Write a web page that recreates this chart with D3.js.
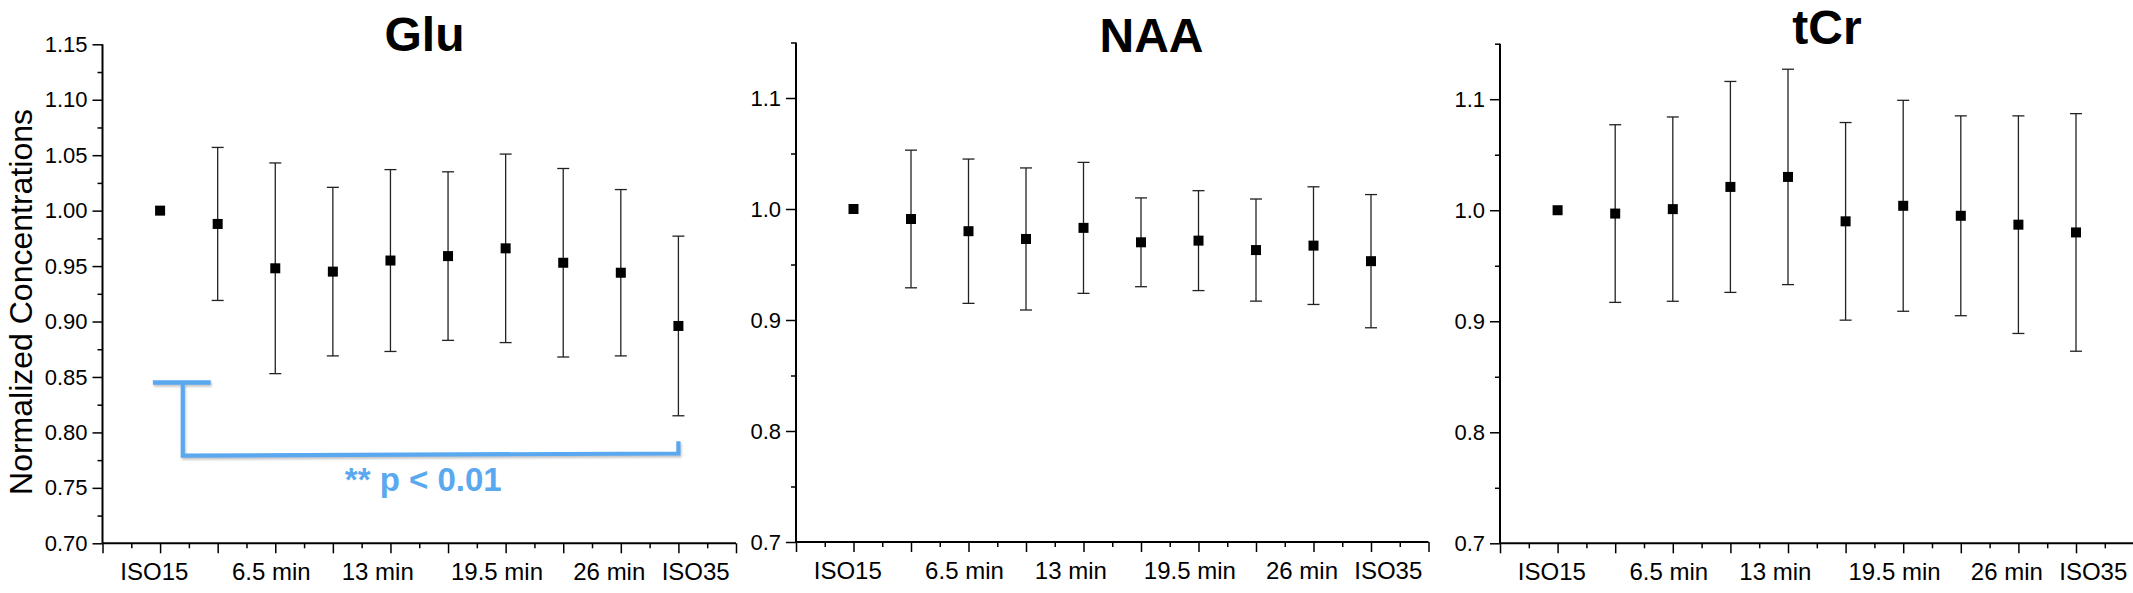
<!DOCTYPE html>
<html><head><meta charset="utf-8">
<script src="https://cdn.jsdelivr.net/npm/d3@7"></script>
<style>
html,body{margin:0;padding:0;background:#fff;}
svg{display:block;background:#fff;}
text{font-family:"Liberation Sans",Arial,Helvetica,sans-serif;fill:#000;}
</style></head><body>
<svg id="chart" width="2133" height="593"></svg>
<script>
// ---- data ----
const positions = [1, 2, 3, 4, 5, 6, 7, 8, 9, 10];
const tickLabels = ["ISO15", "6.5 min", "13 min", "19.5 min", "26 min", "ISO35"];
const tickLabelPos = [0.9, 2.93, 4.78, 6.85, 8.8, 10.3];

const gluMean = [1.000, 0.988, 0.948, 0.945, 0.955, 0.959, 0.966, 0.953, 0.944, 0.896];
const gluSD   = [0, 0.069, 0.095, 0.076, 0.082, 0.076, 0.085, 0.085, 0.075, 0.081];
const naaMean = [1.000, 0.991, 0.980, 0.973, 0.983, 0.970, 0.9715, 0.963, 0.967, 0.953];
const naaSD   = [0, 0.062, 0.065, 0.064, 0.059, 0.040, 0.045, 0.046, 0.053, 0.060];
const tcrMean = [1.000, 0.997, 1.001, 1.021, 1.030, 0.990, 1.004, 0.995, 0.987, 0.980];
const tcrSD   = [0, 0.080, 0.083, 0.095, 0.097, 0.089, 0.095, 0.090, 0.098, 0.107];

const gluYTicks = [0.70, 0.75, 0.80, 0.85, 0.90, 0.95, 1.00, 1.05, 1.10, 1.15];
const gluYMinor = [0.725, 0.775, 0.825, 0.875, 0.925, 0.975, 1.025, 1.075, 1.125];
const otherYTicks = [0.7, 0.8, 0.9, 1.0, 1.1];
const otherYMinor = [0.75, 0.85, 0.95, 1.05, 1.15];
const xMajor = [0, 1, 2, 3, 4, 5, 6, 7, 8, 9, 10, 11];
const xMinor = [0.5, 1.5, 2.5, 3.5, 4.5, 5.5, 6.5, 7.5, 8.5, 9.5, 10.5];

// significance annotation (Glu: ISO15 vs ISO35)
const bracketCap = [[0.875, 0.845], [1.88, 0.845]];
const bracketPath = [[1.394, 0.845], [1.394, 0.779], [10.0, 0.781], [10.0, 0.792]];
const sigText = "** p < 0.01";
const sigTextPos = [5.57, 0.747];

// ---- layout ----
const svg = d3.select("#chart");
const defs = svg.append("defs");
const f = defs.append("filter").attr("id", "shadow").attr("x", "-5%").attr("y", "-20%").attr("width", "110%").attr("height", "150%");
f.append("feDropShadow").attr("dx", 1).attr("dy", 2).attr("stdDeviation", 1).attr("flood-color", "#888").attr("flood-opacity", 0.5);

const panels = [
  {title: "Glu", mean: gluMean, sd: gluSD, x0: 102.5, x1: 736, yTop: 44.3, yBot: 543.3,
   ticks: gluYTicks, minor: gluYMinor, fmt: d3.format(".2f"), titleX: 424.5, titleY: 51, sig: true},
  {title: "NAA", mean: naaMean, sd: naaSD, x0: 796, x1: 1428.5, yTop: 42.5, yBot: 542,
   ticks: otherYTicks, minor: otherYMinor, fmt: d3.format(".1f"), titleX: 1151.5, titleY: 51.5, sig: false},
  {title: "tCr", mean: tcrMean, sd: tcrSD, x0: 1500, x1: 2133.6, yTop: 43.7, yBot: 543.3,
   ticks: otherYTicks, minor: otherYMinor, fmt: d3.format(".1f"), titleX: 1827, titleY: 43.5, sig: false}
];

panels.forEach(p => {
  const x = d3.scaleLinear().domain([0, 11]).range([p.x0, p.x1]);
  const y = d3.scaleLinear().domain([0.70, 1.15]).range([p.yBot, p.yTop]);
  const g = svg.append("g");

  // y axis
  const yAx = g.append("g").attr("transform", `translate(${p.x0},0)`)
    .call(d3.axisLeft(y).tickValues(p.ticks).tickFormat(p.fmt).tickSize(10).tickSizeOuter(0).tickPadding(5));
  yAx.select(".domain").remove();
  yAx.selectAll("line").attr("stroke", "#000").attr("stroke-width", 1.5);
  yAx.selectAll("text").style("font-size", "22px").attr("font-family", null);
  const yMin = g.append("g").attr("transform", `translate(${p.x0},0)`)
    .call(d3.axisLeft(y).tickValues(p.minor).tickFormat("").tickSize(5).tickSizeOuter(0));
  yMin.select(".domain").remove();
  yMin.selectAll("line").attr("stroke", "#000").attr("stroke-width", 1.5);

  // x axis
  const xAx = g.append("g").attr("transform", `translate(0,${p.yBot})`)
    .call(d3.axisBottom(x).tickValues(xMajor).tickFormat("").tickSize(10).tickSizeOuter(0));
  xAx.select(".domain").remove();
  xAx.selectAll("line").attr("stroke", "#000").attr("stroke-width", 1.5);
  const xMin = g.append("g").attr("transform", `translate(0,${p.yBot})`)
    .call(d3.axisBottom(x).tickValues(xMinor).tickFormat("").tickSize(5).tickSizeOuter(0));
  xMin.select(".domain").remove();
  xMin.selectAll("line").attr("stroke", "#000").attr("stroke-width", 1.5);

  // axis lines
  g.append("line").attr("x1", p.x0).attr("x2", p.x0).attr("y1", p.yTop).attr("y2", p.yBot)
    .attr("stroke", "#000").attr("stroke-width", 2);
  g.append("line").attr("x1", p.x0).attr("x2", p.x1).attr("y1", p.yBot).attr("y2", p.yBot)
    .attr("stroke", "#000").attr("stroke-width", 2);

  // x tick labels
  g.selectAll("text.xl").data(tickLabels).enter().append("text").attr("class", "xl")
    .attr("x", (d, i) => x(tickLabelPos[i])).attr("y", p.yBot + 37)
    .attr("text-anchor", "middle").style("font-size", "24px").text(d => d);

  // title
  g.append("text").attr("x", p.titleX).attr("y", p.titleY).attr("text-anchor", "middle")
    .style("font-size", "48px").style("font-weight", "bold").text(p.title);

  // error bars
  const data = positions.map((pos, i) => ({pos, m: p.mean[i], s: p.sd[i]}));
  const eb = g.selectAll("g.eb").data(data.filter(d => d.s > 0)).enter().append("g").attr("class", "eb")
    .attr("stroke", "#222").attr("stroke-width", 1.3);
  eb.append("line").attr("x1", d => x(d.pos)).attr("x2", d => x(d.pos))
    .attr("y1", d => y(d.m + d.s)).attr("y2", d => y(d.m - d.s));
  eb.append("line").attr("x1", d => x(d.pos) - 6).attr("x2", d => x(d.pos) + 6)
    .attr("y1", d => y(d.m + d.s)).attr("y2", d => y(d.m + d.s));
  eb.append("line").attr("x1", d => x(d.pos) - 6).attr("x2", d => x(d.pos) + 6)
    .attr("y1", d => y(d.m - d.s)).attr("y2", d => y(d.m - d.s));

  // markers
  g.selectAll("rect.pt").data(data).enter().append("rect").attr("class", "pt")
    .attr("x", d => x(d.pos) - 5).attr("y", d => y(d.m) - 5).attr("width", 10).attr("height", 10)
    .attr("fill", "#000");

  if (p.sig) {
    const blue = "#5aa9f0";
    const line = d3.line().x(d => x(d[0])).y(d => y(d[1]));
    const sg = g.append("g").attr("filter", "url(#shadow)");
    sg.append("path").attr("d", line(bracketCap)).attr("fill", "none").attr("stroke", blue).attr("stroke-width", 4.5);
    sg.append("path").attr("d", line(bracketPath)).attr("fill", "none").attr("stroke", blue)
      .attr("stroke-width", 4.2).attr("stroke-linejoin", "miter");
    g.append("text").attr("x", x(sigTextPos[0])).attr("y", y(sigTextPos[1])).attr("text-anchor", "middle")
      .style("font-size", "33px").style("font-weight", "bold").style("fill", blue).text(sigText);
  }
});

// y-axis title
svg.append("text").attr("transform", "translate(32,302) rotate(-90)").attr("text-anchor", "middle")
  .style("font-size", "32px").text("Normalized Concentrations");
</script>
</body></html>
